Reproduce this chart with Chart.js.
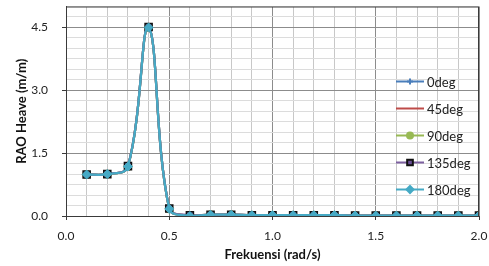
<!DOCTYPE html>
<html>
<head>
<meta charset="utf-8">
<script src="https://cdn.jsdelivr.net/npm/chart.js@4.4.1/dist/chart.umd.min.js"></script>
<style>
  html, body { margin: 0; padding: 0; background: #fff; }
  #wrap { width: 489px; height: 266px; }
</style>
</head>
<body>
<div id="wrap"><canvas id="raoChart"></canvas></div>
<script>
// Frekuensi (rad/s)
const freq = [0.1, 0.2, 0.3, 0.4, 0.5, 0.6, 0.7, 0.8, 0.9, 1.0, 1.1, 1.2, 1.3, 1.4, 1.5, 1.6, 1.7, 1.8, 1.9, 2.0];

// RAO Heave (m/m) per heading
const rao0   = [0.99, 1.00, 1.18, 4.50, 0.17, 0.01, 0.03, 0.03, 0.02, 0.02, 0.02, 0.02, 0.02, 0.01, 0.01, 0.01, 0.01, 0.01, 0.01, 0.01];
const rao45  = [0.99, 1.00, 1.18, 4.50, 0.17, 0.01, 0.03, 0.03, 0.02, 0.02, 0.02, 0.02, 0.02, 0.01, 0.01, 0.01, 0.01, 0.01, 0.01, 0.01];
const rao90  = [0.99, 1.00, 1.18, 4.50, 0.17, 0.01, 0.03, 0.03, 0.02, 0.02, 0.02, 0.02, 0.02, 0.01, 0.01, 0.01, 0.01, 0.01, 0.01, 0.01];
const rao135 = [0.99, 1.00, 1.19, 4.51, 0.18, 0.02, 0.03, 0.03, 0.02, 0.02, 0.02, 0.02, 0.02, 0.01, 0.01, 0.01, 0.01, 0.01, 0.01, 0.01];
const rao180 = [0.99, 1.00, 1.18, 4.50, 0.17, 0.00, 0.03, 0.03, 0.02, 0.02, 0.02, 0.02, 0.02, 0.01, 0.01, 0.01, 0.01, 0.01, 0.01, 0.01];

const headings = ['0deg', '45deg', '90deg', '135deg', '180deg'];

const yMajor = 1.5;
const xMajor = 0.5;
const fontName = 'Lato, "Noto Sans", sans-serif';

function isMajor(v, step) {
    return Math.abs(v / step - Math.round(v / step)) < 1e-6;
}

function pts(vals) {
    return vals.map((v, i) => ({ x: freq[i], y: v }));
}

// no extra room for overflowing tick labels, the plot box is fixed
function noOverflow(scale) {
    scale.paddingTop = 0;
    scale.paddingBottom = 0;
    scale.paddingLeft = 0;
    scale.paddingRight = 0;
}

// legend drawn inside the plot, like the original
const insideLegend = {
    id: 'insideLegend',
    afterDraw(chart) {
        const ctx = chart.ctx;
        const area = chart.chartArea;
        const x0 = area.right - 83;
        const y0 = area.top + 75;
        ctx.save();
        chart.data.datasets.forEach((ds, i) => {
            const y = y0 + i * 27;
            ctx.strokeStyle = ds.borderColor;
            ctx.lineWidth = 2;
            ctx.beginPath();
            ctx.moveTo(x0, y);
            ctx.lineTo(x0 + 28, y);
            ctx.stroke();
            if (ds.pointStyle !== false) {
                ctx.fillStyle = ds.pointBackgroundColor;
                ctx.strokeStyle = ds.pointBorderColor;
                Chart.helpers.drawPoint(ctx, {
                    pointStyle: ds.pointStyle,
                    radius: ds.pointRadius - 1,
                    borderWidth: ds.pointBorderWidth,
                    rotation: 0
                }, x0 + 14, y);
            }
            ctx.fillStyle = '#222';
            ctx.font = '13px ' + fontName;
            ctx.textAlign = 'left';
            ctx.textBaseline = 'middle';
            ctx.fillText(headings[i], x0 + 31, y + 1);
        });
        // plot frame
        ctx.strokeStyle = '#3a3a3a';
        ctx.lineWidth = 1;
        ctx.strokeRect(area.left + 0.5, area.top + 0.5, area.right - area.left - 1, area.bottom - area.top);
        ctx.restore();
    }
};

const ctx = document.getElementById('raoChart').getContext('2d');
new Chart(ctx, {
    type: 'line',
    data: {
        datasets: [
            {
                label: headings[0], data: pts(rao0), order: 4,
                borderColor: '#4a7ebb', pointStyle: 'cross', pointRadius: 4,
                pointBackgroundColor: '#4a7ebb', pointBorderColor: '#4a7ebb', pointBorderWidth: 1
            },
            {
                label: headings[1], data: pts(rao45), order: 3,
                borderColor: '#be4b48', pointStyle: false, pointRadius: 0,
                pointBackgroundColor: '#be4b48', pointBorderColor: '#be4b48', pointBorderWidth: 1
            },
            {
                label: headings[2], data: pts(rao90), order: 2,
                borderColor: '#98b954', pointStyle: 'circle', pointRadius: 4,
                pointBackgroundColor: '#98b954', pointBorderColor: '#98b954', pointBorderWidth: 1
            },
            {
                label: headings[3], data: pts(rao135), order: 1,
                borderColor: '#7d60a0', pointStyle: 'rect', pointRadius: 5,
                pointBackgroundColor: '#6a4f96', pointBorderColor: '#111', pointBorderWidth: 1.5
            },
            {
                label: headings[4], data: pts(rao180), order: 0,
                borderColor: '#46aac5', pointStyle: 'rectRot', pointRadius: 4.5,
                pointBackgroundColor: '#46aac5', pointBorderColor: '#46aac5', pointBorderWidth: 1
            }
        ]
    },
    options: {
        responsive: true,
        maintainAspectRatio: false,
        animation: false,
        layout: { padding: { top: 6, right: 10, left: 0, bottom: 0 } },
        elements: {
            line: { borderWidth: 2.25, tension: 0.4 },
            point: { hoverRadius: 4 }
        },
        plugins: {
            legend: { display: false },
            tooltip: { enabled: false }
        },
        scales: {
            x: {
                type: 'linear',
                min: 0, max: 2.0,
                afterFit(scale) { scale.height = 50; noOverflow(scale); },
                border: { color: '#3a3a3a', width: 1 },
                grid: {
                    color: c => isMajor(c.tick.value, xMajor) ? '#8c8c8c' : '#c8c8c8',
                    tickColor: c => isMajor(c.tick.value, xMajor) ? '#3a3a3a' : 'rgba(0,0,0,0)',
                    tickLength: 4
                },
                ticks: {
                    stepSize: 0.1,
                    autoSkip: false,
                    maxRotation: 0,
                    padding: 9,
                    color: '#222',
                    font: { family: fontName, size: 12 },
                    callback: v => isMajor(v, xMajor) ? v.toFixed(1) : ''
                },
                title: {
                    display: true,
                    text: 'Frekuensi (rad/s)',
                    color: '#111',
                    font: { family: fontName, size: 13, weight: 'bold' },
                    padding: { top: 0, bottom: 3 }
                }
            },
            y: {
                min: 0, max: 5.0,
                afterFit(scale) { scale.width = 66; noOverflow(scale); },
                border: { color: '#3a3a3a', width: 1 },
                grid: {
                    color: c => isMajor(c.tick.value, yMajor) ? '#8c8c8c' : '#dcdcdc',
                    tickColor: c => isMajor(c.tick.value, yMajor) ? '#3a3a3a' : 'rgba(0,0,0,0)',
                    tickLength: 4
                },
                ticks: {
                    stepSize: 0.25,
                    autoSkip: false,
                    padding: 14,
                    color: '#222',
                    font: { family: fontName, size: 12 },
                    callback: v => isMajor(v, yMajor) ? v.toFixed(1) : ''
                },
                title: {
                    display: true,
                    text: 'RAO Heave (m/m)',
                    color: '#111',
                    font: { family: fontName, size: 13, weight: 'bold' },
                    padding: { top: 14, bottom: 0 }
                }
            }
        }
    },
    plugins: [insideLegend]
});
</script>
</body>
</html>
